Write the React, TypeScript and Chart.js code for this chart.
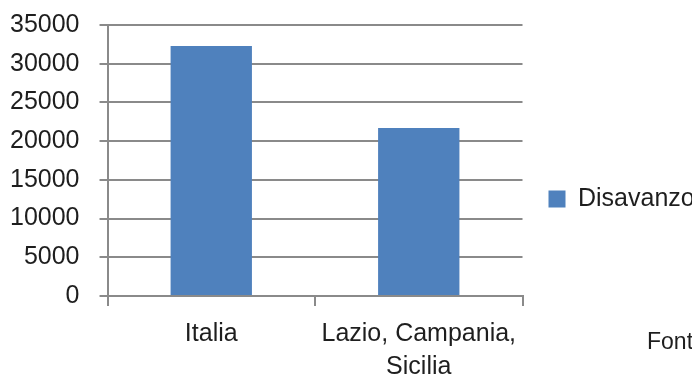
import React, { useEffect, useRef } from "react";
import { Chart, registerables } from "chart.js";

Chart.register(...registerables);

const categories: string[][] = [["Italia"], ["Lazio, Campania,", "Sicilia"]];
const seriesLabel = "Disavanzo";
const disavanzo: number[] = [32300, 21700];
const yMin = 0;
const yMax = 35000;
const yStep = 5000;
const sourceText = "Fonte";

const FONT = "'Liberation Sans', Arial, sans-serif";
const TEXT = "#1e1e1e";
const GRID = "#8a8a8a";
const BAR = "#4f81bd";

const sourcePlugin = {
  id: "sourceNote",
  afterDraw(chart: any) {
    const ctx = chart.ctx;
    ctx.save();
    ctx.font = `23px ${FONT}`;
    ctx.fillStyle = TEXT;
    ctx.textBaseline = "alphabetic";
    ctx.textAlign = "left";
    ctx.fillText(sourceText, chart.width - 45, chart.height - 32);
    ctx.restore();
  },
};

export default function App() {
  const ref = useRef<HTMLCanvasElement | null>(null);
  useEffect(() => {
    document.body.style.margin = "0";
    if (!ref.current) return;
    const chart = new Chart(ref.current, {
      type: "bar",
      data: {
        labels: categories,
        datasets: [
          {
            label: seriesLabel,
            data: disavanzo,
            backgroundColor: BAR,
            borderWidth: 0,
            categoryPercentage: 0.8,
            barPercentage: 0.49,
          },
        ],
      },
      options: {
        responsive: false,
        animation: false,
        events: [],
        layout: { padding: { top: 2, left: -10, right: -8, bottom: -15 } },
        plugins: {
          legend: {
            position: "right",
            labels: {
              boxWidth: 17,
              boxHeight: 17,
              padding: 26,
              color: TEXT,
              font: { family: FONT, size: 25 },
            },
          },
          tooltip: { enabled: false },
          title: { display: false },
        },
        scales: {
          x: {
            grid: {
              drawOnChartArea: false,
              drawTicks: true,
              tickLength: 10,
              color: GRID,
              lineWidth: 2,
            },
            border: { display: true, color: GRID, width: 2 },
            ticks: {
              color: TEXT,
              font: { family: FONT, size: 25, lineHeight: 1.32 },
              padding: 12,
              maxRotation: 0,
              autoSkip: false,
            },
          },
          y: {
            min: yMin,
            max: yMax,
            grid: { color: GRID, lineWidth: 2, tickLength: 8 },
            border: { display: true, color: GRID, width: 2 },
            ticks: {
              stepSize: yStep,
              color: TEXT,
              font: { family: FONT, size: 25, lineHeight: 0.4 },
              padding: 20,
              callback: (v: any) => String(v),
            },
          },
        },
      },
      plugins: [sourcePlugin],
    });
    return () => chart.destroy();
  }, []);
  return (
    <div style={{ position: "absolute", left: 0, top: 0, width: 692, height: 381, background: "#fff" }}>
      <canvas ref={ref} width={692} height={381} style={{ display: "block" }} />
    </div>
  );
}
